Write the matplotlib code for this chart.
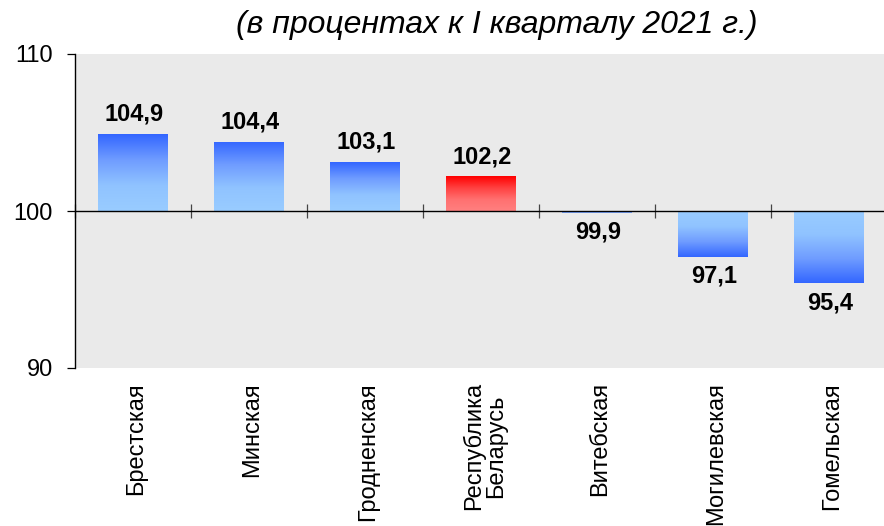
import numpy as np
import matplotlib
matplotlib.use("Agg")
import matplotlib.pyplot as plt
from matplotlib.colors import LinearSegmentedColormap
from matplotlib.transforms import blended_transform_factory, offset_copy

plt.rcParams['font.family'] = ['Liberation Sans', 'DejaVu Sans']

categories = ["Брестская", "Минская", "Гродненская", "Республика\nБеларусь",
              "Витебская", "Могилевская", "Гомельская"]
values = [104.9, 104.4, 103.1, 102.2, 99.9, 97.1, 95.4]
highlight = [False, False, False, True, False, False, False]
baseline = 100
y_ticks = [90, 100, 110]
title = "(в процентах к I кварталу 2021 г.)"

W, H = 884, 526
fig = plt.figure(figsize=(W / 100, H / 100), dpi=100)
ax = fig.add_axes([75 / W, (H - 368) / H, 812 / W, 314 / H])
ax.set_facecolor('#EAEAEA')

x = np.arange(len(categories))
ax.set_xlim(-0.5, len(categories) - 0.5)
ax.set_ylim(90, 110)

blue = LinearSegmentedColormap.from_list('b', ['#99CCFF', '#90C3FF', '#6F9CFF', '#3366FF'])
red = LinearSegmentedColormap.from_list('r', ['#FF8080', '#FF7070', '#FF4040', '#FF0000'])

bottoms = [baseline] * len(values)
heights = [v - baseline for v in values]
bars = ax.bar(x, heights, bottom=bottoms, width=0.6, color='none',
              edgecolor='none', zorder=2)

grad = np.linspace(0, 1, 256).reshape(-1, 1)
for b, v, hl in zip(bars, values, highlight):
    bx, bw = b.get_x(), b.get_width()
    cmap = red if hl else blue
    if abs(v - baseline) < 0.5:
        # very thin bar: single mid tone
        ax.bar(b.get_x() + bw / 2, b.get_height(), bottom=b.get_y(), width=bw,
               color='#7AA6FF', edgecolor='none', zorder=2)
        continue
    ext = [bx, bx + bw, baseline, v]
    im = ax.imshow(grad, extent=ext, origin='lower', aspect='auto',
                   cmap=cmap, vmin=0, vmax=1, zorder=2, interpolation='bilinear')
    im.set_clip_path(b)

ax.axhline(baseline, color='black', lw=1.0, zorder=3)

for s in ['top', 'right']:
    ax.spines[s].set_visible(False)
ax.spines['left'].set_color('black')
ax.spines['left'].set_linewidth(1.0)
ax.spines['bottom'].set_position(('data', baseline))
ax.spines['bottom'].set_visible(False)

ax.set_xticks(np.arange(-0.5, len(categories), 1.0))
ax.set_xticklabels([])
ax.tick_params(axis='x', direction='inout', length=10, width=0.9,
               color='#444444', bottom=True)

ax.set_yticks(y_ticks)
ax.set_yticklabels([str(t) for t in y_ticks])
ax.tick_params(axis='y', direction='out', length=6, width=0.9, color='black',
               labelsize=17, pad=10)

trans = blended_transform_factory(ax.transData, ax.transAxes)
trans = offset_copy(trans, fig=fig, x=0, y=-14, units='dots')
for xi, c in zip(x, categories):
    ax.text(xi + 0.03, 0, c, transform=trans, rotation=90, ha='center', va='top',
            multialignment='center', fontsize=17, linespacing=0.95)

for xi, v in zip(x, values):
    s = f"{v:.1f}".replace('.', ',')
    if v >= baseline:
        ax.annotate(s, (xi, v), xytext=(1, 6), textcoords='offset points',
                    ha='center', va='bottom', fontsize=17, fontweight='bold',
                    zorder=4)
    else:
        ax.annotate(s, (xi, v), xytext=(1, -6), textcoords='offset points',
                    ha='center', va='top', fontsize=17, fontweight='bold',
                    zorder=4)

fig.text(497 / W, 1 - 25 / H, title, ha='center', va='center', fontsize=23,
         fontstyle='italic')

fig.savefig('out.png', dpi=100)
